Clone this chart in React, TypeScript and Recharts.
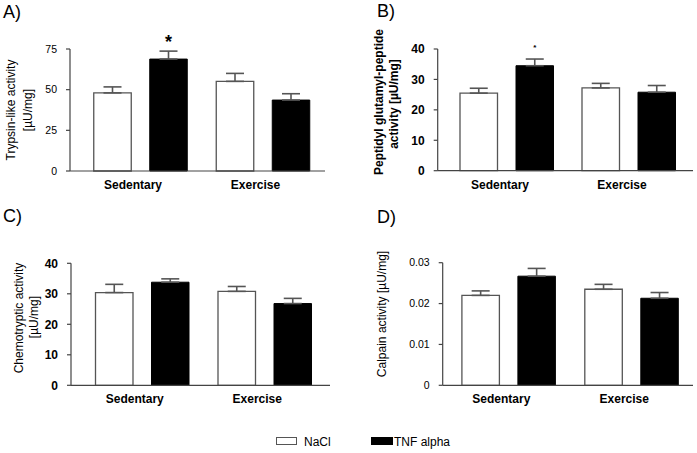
import React from 'react';
import { BarChart, Bar, XAxis, YAxis, ErrorBar, LabelList } from 'recharts';

const categories = ['Sedentary', 'Exercise'];

// A) trypsin-like
const trypsinNaCl = [48, 55.1];
const trypsinNaClErr = [3.7, 4.9];
const trypsinTnf = [68.8, 43.6];
const trypsinTnfErr = [4.9, 3.9];
const trypsinSig = ['*', ''];

// B) peptidyl glutamyl-peptide
const peptidylNaCl = [25.5, 27.2];
const peptidylNaClErr = [1.6, 1.5];
const peptidylTnf = [34.5, 25.8];
const peptidylTnfErr = [2.2, 2.2];
const peptidylSig = ['*', ''];

// C) chemotryptic
const chemoNaCl = [30.4, 30.8];
const chemoNaClErr = [2.7, 1.6];
const chemoTnf = [33.8, 26.8];
const chemoTnfErr = [1.1, 1.7];

// D) calpain
const calpainNaCl = [0.022, 0.0235];
const calpainNaClErr = [0.0011, 0.0012];
const calpainTnf = [0.0267, 0.0213];
const calpainTnfErr = [0.0019, 0.0014];

const ticksA = [0, 25, 50, 75];
const ticks40 = [0, 10, 20, 30, 40];
const ticksD = [0, 0.01, 0.02, 0.03];

const FONT = '"Liberation Sans", Arial, sans-serif';

const build = (nacl: number[], naclErr: number[], tnf: number[], tnfErr: number[], sig?: string[]) =>
    categories.map((name, i) => ({
        name,
        nacl: nacl[i],
        tnf: tnf[i],
        naclErr: [0, naclErr[i]],
        tnfErr: [0, tnfErr[i]],
        sig: sig ? sig[i] : '',
    }));

const CatTick = (props: any) => {
    const { x, y, payload } = props;
    return (
        <text x={x - 7} y={y + 16} textAnchor="middle" fontFamily={FONT} fontSize={12} fontWeight="bold" fill="#000">
            {payload.value}
        </text>
    );
};

interface PanelProps {
    left: number;
    top: number;
    width: number;
    height: number;
    plotLeft: number;
    plotTop: number;
    plotRight: number;
    plotBottom: number;
    padL: number;
    padR: number;
    data: any[];
    domain: [number, number];
    ticks: number[];
    boldTicks: boolean;
    tickSize: number;
    sigSize?: number;
    sigOffset?: number;
}

const Panel: React.FC<PanelProps> = (p) => (
    <div style={{ position: 'absolute', left: p.left, top: p.top }}>
        <BarChart
            width={p.width}
            height={p.height}
            data={p.data}
            margin={{ top: p.plotTop, right: p.width - p.plotRight, left: 0, bottom: 0 }}
            barSize={37.5}
            barGap={18.5}
        >
            <XAxis
                dataKey="name"
                height={p.height - p.plotBottom}
                padding={{ left: p.padL, right: p.padR }}
                tickLine={false}
                tickSize={0}
                tick={<CatTick />}
                axisLine={{ stroke: '#444', strokeWidth: 1.2 }}
            />
            <YAxis
                width={p.plotLeft}
                domain={p.domain}
                ticks={p.ticks}
                tickSize={4}
                tickMargin={9}
                axisLine={{ stroke: '#444', strokeWidth: 1.2 }}
                tickLine={{ stroke: '#444', strokeWidth: 1.2 }}
                tick={{ fill: '#000', fontSize: p.tickSize, fontFamily: FONT, fontWeight: p.boldTicks ? 'bold' : 'normal' }}
            />
            <Bar dataKey="nacl" fill="#fff" stroke="#555" strokeWidth={1.3} isAnimationActive={false}>
                <ErrorBar dataKey="naclErr" direction="y" width={9} stroke="#555" strokeWidth={1.6} />
            </Bar>
            <Bar dataKey="tnf" fill="#000" stroke="#000" strokeWidth={1} isAnimationActive={false}>
                <ErrorBar dataKey="tnfErr" direction="y" width={9} stroke="#555" strokeWidth={1.6} />
                {p.sigSize ? (
                    <LabelList
                        dataKey="sig"
                        position="top"
                        offset={p.sigOffset}
                        style={{ fontSize: p.sigSize, fontFamily: FONT, fontWeight: 'bold', fill: '#000' }}
                    />
                ) : null}
            </Bar>
        </BarChart>
    </div>
);

const RotText = ({ cx, cy, text, bold }: { cx: number; cy: number; text: string; bold?: boolean }) => (
    <div
        style={{
            position: 'absolute',
            left: cx,
            top: cy,
            transform: 'translate(-50%, -50%) rotate(-90deg)',
            whiteSpace: 'nowrap',
            fontFamily: FONT,
            fontSize: 12,
            lineHeight: '14px',
            fontWeight: bold ? 'bold' : 'normal',
            color: '#000',
        }}
    >
        {text}
    </div>
);

const PanelLabel = ({ x, y, text }: { x: number; y: number; text: string }) => (
    <div style={{ position: 'absolute', left: x, top: y, fontFamily: FONT, fontSize: 18, lineHeight: '18px', color: '#000' }}>
        {text}
    </div>
);

export default function App() {
    const dataA = build(trypsinNaCl, trypsinNaClErr, trypsinTnf, trypsinTnfErr, trypsinSig);
    const dataB = build(peptidylNaCl, peptidylNaClErr, peptidylTnf, peptidylTnfErr, peptidylSig);
    const dataC = build(chemoNaCl, chemoNaClErr, chemoTnf, chemoTnfErr);
    const dataD = build(calpainNaCl, calpainNaClErr, calpainTnf, calpainTnfErr);

    return (
        <div style={{ position: 'absolute', left: 0, top: 0, width: 697, height: 453, background: '#fff', overflow: 'hidden' }}>
            <PanelLabel x={3} y={3} text="A)" />
            <PanelLabel x={377} y={2} text="B)" />
            <PanelLabel x={3} y={207} text="C)" />
            <PanelLabel x={377} y={208} text="D)" />

            <Panel left={0} top={0} width={340} height={200} plotLeft={70} plotTop={49} plotRight={325} plotBottom={171}
                padL={8.75} padR={1.25} data={dataA} domain={[0, 75]} ticks={ticksA} boldTicks={false} tickSize={10.5}
                sigSize={18} sigOffset={11} />
            <Panel left={350} top={0} width={347} height={200} plotLeft={87.7} plotTop={49} plotRight={343} plotBottom={170.7}
                padL={8.3} padR={3} data={dataB} domain={[0, 40]} ticks={ticks40} boldTicks={true} tickSize={12}
                sigSize={8} sigOffset={16} />
            <Panel left={0} top={200} width={340} height={215} plotLeft={71} plotTop={63.3} plotRight={330} plotBottom={185.3}
                padL={9.5} padR={4.5} data={dataC} domain={[0, 40]} ticks={ticks40} boldTicks={true} tickSize={12} />
            <Panel left={350} top={200} width={347} height={215} plotLeft={92.7} plotTop={62.7} plotRight={343} plotBottom={185.3}
                padL={4.2} padR={0.3} data={dataD} domain={[0, 0.03]} ticks={ticksD} boldTicks={false} tickSize={10.5} />

            <RotText cx={11} cy={110} text="Trypsin-like activity" />
            <RotText cx={28} cy={110} text="[µU/mg]" />
            <RotText cx={379} cy={102} text="Peptidyl glutamyl-peptide" bold />
            <RotText cx={394} cy={104} text="activity [µU/mg]" bold />
            <RotText cx={19} cy={318} text="Chemotryptic activity" />
            <RotText cx={34} cy={317} text="[µU/mg]" />
            <RotText cx={382} cy={314} text="Calpain activity [µU/mg]" />

            {/* legend */}
            <div style={{ position: 'absolute', left: 276, top: 437, width: 19, height: 6, border: '1px solid #555', background: '#fff' }} />
            <div style={{ position: 'absolute', left: 304, top: 435, fontFamily: FONT, fontSize: 12, lineHeight: '14px' }}>NaCl</div>
            <div style={{ position: 'absolute', left: 371, top: 437, width: 22, height: 8, background: '#000' }} />
            <div style={{ position: 'absolute', left: 394, top: 435, fontFamily: FONT, fontSize: 12, lineHeight: '14px' }}>TNF alpha</div>
        </div>
    );
}
